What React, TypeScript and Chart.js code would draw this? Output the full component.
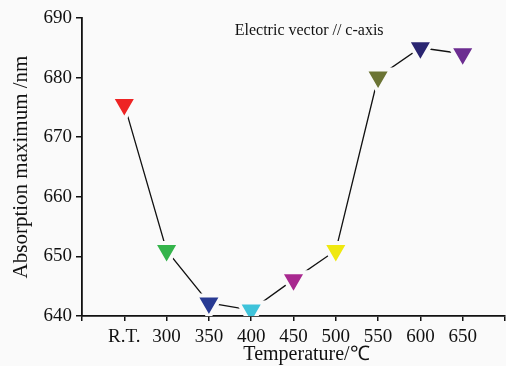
import React, { useEffect, useRef } from "react";
import { Chart, LineController, registerables } from "chart.js";

Chart.register(...registerables);

const categories = ["R.T.", "300", "350", "400", "450", "500", "550", "600", "650"];
const absorption = [675.5, 651, 642.2, 641, 646.1, 651, 680.1, 685, 684];
const markerColors = ["#ee2424", "#34b44b", "#283a93", "#3ec3da", "#a8288f", "#efe80f", "#6b7434", "#2a2571", "#6c2d91"];
const yTicks = [640, 650, 660, 670, 680, 690];
const annotation = "Electric vector // c-axis";
const xTitle = "Temperature/℃";
const yTitle = "Absorption maximum /nm";

const BG = "#fafafa";
const FONT = "'Liberation Serif', 'Times New Roman', serif";

class NoOverflowLine extends LineController {
  static id = "noOverflowLine";
  static defaults = LineController.defaults;
  static overrides = LineController.overrides;
  getMaxOverflow() {
    return 0 as any;
  }
}
Chart.register(NoOverflowLine);

export default function App() {
  const ref = useRef<HTMLCanvasElement | null>(null);
  useEffect(() => {
    if (!ref.current) return;
    const bgPlugin = {
      id: "bg",
      beforeDraw(chart: any) {
        const c = chart.ctx;
        c.save();
        c.fillStyle = BG;
        c.fillRect(0, 0, chart.width, chart.height);
        c.restore();
      },
    };
    const textPlugin = {
      id: "texts",
      afterDraw(chart: any) {
        const c = chart.ctx;
        const a = chart.chartArea;
        c.save();
        c.fillStyle = "#111";
        c.textAlign = "center";
        c.textBaseline = "middle";
        c.font = `16px ${FONT}`;
        c.fillText(annotation, a.left + (a.right - a.left) * 0.537, a.top + 13);
        c.font = `20px ${FONT}`;
        c.fillText(xTitle, (a.left + a.right) / 2 + 13, a.bottom + 39);
        c.restore();
      },
    };
    const chart = new Chart(ref.current, {
      type: "noOverflowLine",
      data: {
        datasets: [
          {
            data: absorption.map((v, i) => ({ x: i, y: v })),
            borderColor: "#111",
            borderWidth: 1.3,
            pointStyle: "triangle",
            pointRotation: 180,
            pointRadius: 15,
            pointBorderWidth: 4,
            pointBorderColor: BG,
            pointBackgroundColor: markerColors,
            tension: 0,
            fill: false,
          },
        ],
      },
      options: {
        animation: false,
        responsive: false,
        events: [],
        layout: { padding: { top: 18, right: 1, left: 0, bottom: 0 } },
        plugins: { legend: { display: false }, tooltip: { enabled: false } },
        scales: {
          x: {
            type: "linear",
            min: -1,
            max: 9,
            afterFit(scale: any) {
              scale.height = 50;
              scale.paddingLeft = 0;
              scale.paddingRight = 0;
            },
            afterBuildTicks(scale: any) {
              scale.ticks = Array.from({ length: 11 }, (_, k) => ({ value: k - 1 }));
            },
            ticks: {
              color: "#111",
              font: { family: FONT, size: 19 },
              padding: 5,
              maxRotation: 0,
              autoSkip: false,
              callback: (v: any) => {
                const i = Number(v);
                return i >= 0 && i < categories.length ? categories[i] : "";
              },
            },
            grid: { display: true, drawOnChartArea: false, drawTicks: true, tickLength: 5, color: "#111", lineWidth: 1.5 },
            border: { display: true, color: "#111", width: 1.8 },
          },
          y: {
            type: "linear",
            min: 640,
            max: 690,
            afterFit(scale: any) {
              scale.width = 82;
              scale.paddingTop = 0;
              scale.paddingBottom = 0;
            },
            afterBuildTicks(scale: any) {
              scale.ticks = yTicks.map((v) => ({ value: v }));
            },
            ticks: { color: "#111", font: { family: FONT, size: 19 }, padding: 4 },
            grid: { display: true, drawOnChartArea: false, drawTicks: true, tickLength: 6, color: "#111", lineWidth: 1.5 },
            border: { display: true, color: "#111", width: 1.8 },
            title: { display: true, text: yTitle, color: "#111", font: { family: FONT, size: 21 }, padding: { top: 9, bottom: 0 } },
          },
        },
      },
      plugins: [bgPlugin, textPlugin],
    } as any);
    return () => chart.destroy();
  }, []);
  return (
    <div style={{ position: "fixed", left: 0, top: 0, width: 506, height: 366, background: BG }}>
      <canvas ref={ref} width={506} height={366} style={{ display: "block", width: 506, height: 366 }} />
    </div>
  );
}
